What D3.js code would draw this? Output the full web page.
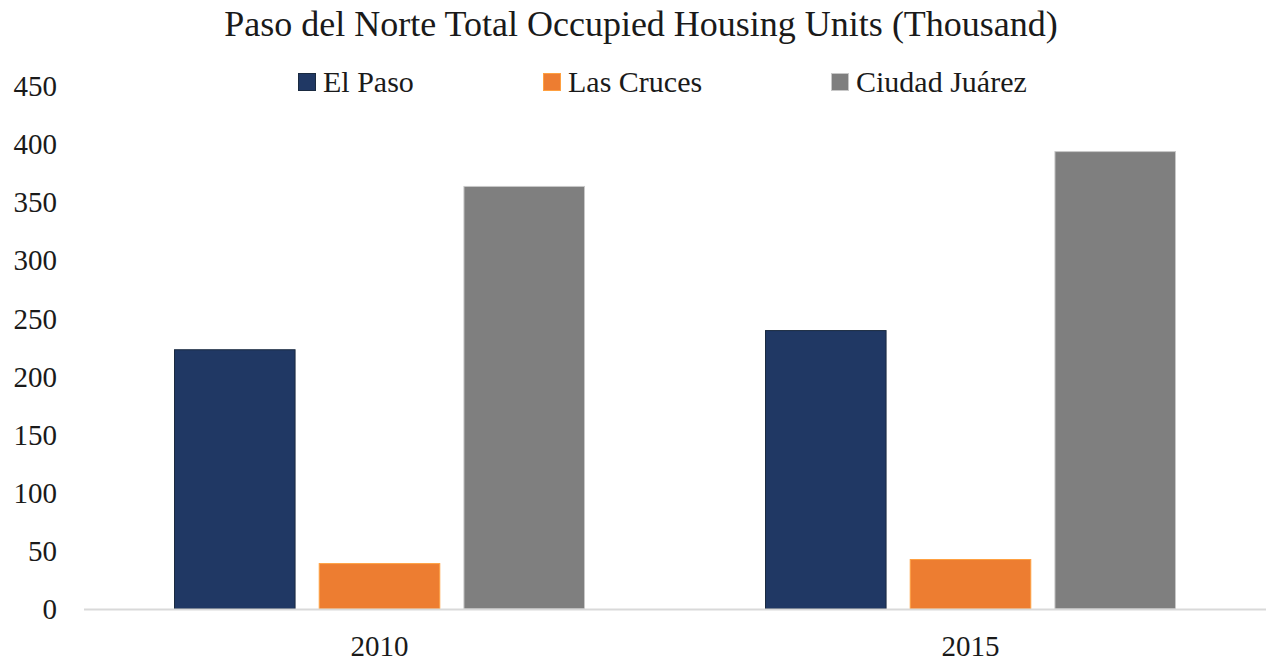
<!DOCTYPE html>
<html>
<head>
<meta charset="utf-8">
<script src="https://cdn.jsdelivr.net/npm/d3@7"></script>
<style>
  body { margin: 0; background: #fff; }
  text { font-family: "Liberation Serif", "DejaVu Serif", serif; fill: #1a1a1a; }
</style>
</head>
<body>
<div id="chart"></div>
<script>
var years = ["2010", "2015"];
var series = ["El Paso", "Las Cruces", "Ciudad Juárez"];
var elPaso = [223.5, 240];
var lasCruces = [39.5, 43];
var juarez = [364, 394];
var yTicks = [0, 50, 100, 150, 200, 250, 300, 350, 400, 450];
var colors = ["#203864", "#ed7d31", "#7f7f7f"];
var strokes = ["#1a2a40", "#ffa040", "#c8c8c8"];

var values = [elPaso, lasCruces, juarez];

var width = 1266, height = 664;
var margin = {top: 86, right: 0, bottom: 55, left: 84};

var svg = d3.select("#chart").append("svg")
    .attr("width", width)
    .attr("height", height);

var x0 = d3.scaleBand()
    .domain(years)
    .range([margin.left, width - margin.right]);

var groupW = 411;
var x1 = d3.scaleBand()
    .domain(series)
    .range([0, groupW])
    .paddingInner(0.16);

var y = d3.scaleLinear()
    .domain([0, 450])
    .range([height - margin.bottom, margin.top]);

// title
svg.append("text")
    .attr("x", 641)
    .attr("y", 36)
    .attr("text-anchor", "middle")
    .style("font-size", "36px")
    .text("Paso del Norte Total Occupied Housing Units (Thousand)");

// y tick labels
svg.selectAll(".ytick")
    .data(yTicks)
    .enter().append("text")
    .attr("class", "ytick")
    .attr("x", 57)
    .attr("y", function(d) { return y(d); })
    .attr("dy", "0.35em")
    .attr("text-anchor", "end")
    .style("font-size", "29px")
    .text(function(d) { return d; });

// bars
var groups = svg.selectAll(".grp")
    .data(years)
    .enter().append("g")
    .attr("class", "grp")
    .attr("transform", function(d) { return "translate(" + (x0(d) + (x0.bandwidth() - groupW) / 2) + ",0)"; });

groups.selectAll("rect")
    .data(function(d, i) {
        return series.map(function(s, j) { return {s: s, j: j, v: values[j][i]}; });
    })
    .enter().append("rect")
    .attr("x", function(d) { return x1(d.s) + 0.5; })
    .attr("y", function(d) { return y(d.v) + 0.5; })
    .attr("width", x1.bandwidth() - 1)
    .attr("height", function(d) { return y(0) - y(d.v) - 0.5; })
    .style("fill", function(d) { return colors[d.j]; })
    .style("stroke", function(d) { return strokes[d.j]; })
    .style("stroke-width", 1);

// x axis line
svg.append("line")
    .attr("x1", margin.left)
    .attr("x2", width)
    .attr("y1", y(0) + 0.5)
    .attr("y2", y(0) + 0.5)
    .style("stroke", "#d9d9d9")
    .style("stroke-width", 2);

// x labels
svg.selectAll(".xlab")
    .data(years)
    .enter().append("text")
    .attr("class", "xlab")
    .attr("x", function(d) { return x0(d) + x0.bandwidth() / 2; })
    .attr("y", 656)
    .attr("text-anchor", "middle")
    .style("font-size", "29px")
    .text(function(d) { return d; });

// legend
var legX = [298, 543, 831];
var leg = svg.selectAll(".leg")
    .data(series)
    .enter().append("g")
    .attr("class", "leg")
    .attr("transform", function(d, i) { return "translate(" + legX[i] + ",73)"; });

leg.append("rect")
    .attr("x", 0.5)
    .attr("y", 0.5)
    .attr("width", 17)
    .attr("height", 17)
    .style("fill", function(d, i) { return colors[i]; })
    .style("stroke", function(d, i) { return strokes[i]; });

leg.append("text")
    .attr("x", 25)
    .attr("y", 19)
    .style("font-size", "30px")
    .text(function(d) { return d; });
</script>
</body>
</html>
